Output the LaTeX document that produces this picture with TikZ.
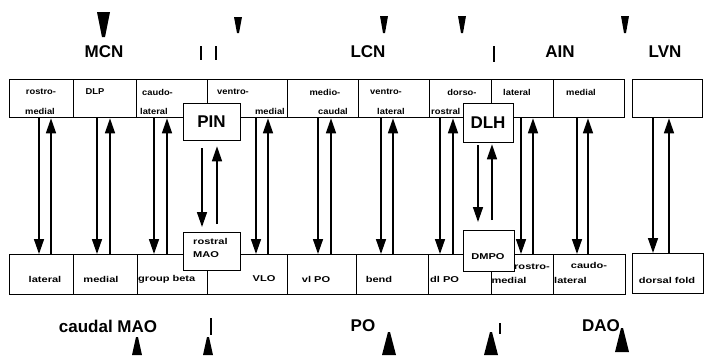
\documentclass[tikz,border=0pt]{standalone}
\usepackage{fontspec}
\setmainfont{Liberation Sans}
\newfontfamily\cellfont{Liberation Sans}[FakeStretch=1.1]
\newfontfamily\widefont{Liberation Sans}[FakeStretch=1.3]
\usetikzlibrary{arrows.meta}
\tikzset{
    cell/.style={ % Kiểu ô trong hàng trên
        draw,
        line width=1.3pt,
        anchor=north west,
        inner sep=0pt,
        minimum height=38pt
    },
    lowcell/.style={ % Kiểu ô trong hàng dưới
        cell,
        minimum height=40pt
    },
    overbox/.style={ % Kiểu ô nổi đè lên hàng
        cell,
        fill=white
    },
    tinytext/.style={ % Chữ nhỏ trong ô hàng trên
        font=\cellfont\bfseries\fontsize{8.5}{9}\selectfont,
        inner sep=0pt
    },
    widetext/.style={ % Chữ nhỏ, rộng trong ô hàng dưới
        font=\widefont\bfseries\fontsize{8.5}{9}\selectfont,
        inner sep=0pt
    },
    bigtext/.style={ % Chữ tên nhân
        font=\bfseries\fontsize{17}{20}\selectfont,
        inner sep=0pt
    },
    conn/.style={ % Mũi tên chiếu
        line width=1.5pt,
        -{Triangle[length=15pt,width=10pt]}
    }
}

\begin{document}
\begin{tikzpicture}[x=1pt,y=-1pt]
        \useasboundingbox (0,0) rectangle (705,360);

        % hàng trên
        \node [cell, minimum width=64pt] (t1) at (9,79) {};
        \node [cell, minimum width=63pt] (t2) at (73,79) {};
        \node [cell, minimum width=71pt] (t3) at (136,79) {};
        \node [cell, minimum width=80pt] (t4) at (207,79) {};
        \node [cell, minimum width=71pt] (t5) at (287,79) {};
        \node [cell, minimum width=71pt] (t6) at (358,79) {};
        \node [cell, minimum width=62pt] (t7) at (429,79) {};
        \node [cell, minimum width=62pt] (t8) at (491,79) {};
        \node [cell, minimum width=71pt] (t9) at (553,79) {};
        \node [cell, minimum width=70pt] (lvn) at (632,79) {};

        \node [tinytext] (t1a) at (41,92) {rostro-};
        \node [tinytext] (t1b) at (40,111) {medial};
        \node [tinytext] (t2a) at (95,92) {DLP};
        \node [tinytext, anchor=west] (t3a) at (142,92) {caudo-};
        \node [tinytext, anchor=west] (t3b) at (140,111) {lateral};
        \node [tinytext] (t4a) at (233,92) {ventro-};
        \node [tinytext, anchor=east] (t4b) at (285,111) {medial};
        \node [tinytext] (t5a) at (325,92) {medio-};
        \node [tinytext] (t5b) at (333,111) {caudal};
        \node [tinytext] (t6a) at (386,92) {ventro-};
        \node [tinytext] (t6b) at (391,111) {lateral};
        \node [tinytext] (t7a) at (462,92) {dorso-};
        \node [tinytext, anchor=west] (t7b) at (431,111) {rostral};
        \node [tinytext] (t8a) at (517,92) {lateral};
        \node [tinytext] (t9a) at (581,92) {medial};

        % hàng dưới
        \node [lowcell, minimum width=64pt] (b1) at (9,254) {};
        \node [lowcell, minimum width=64pt] (b2) at (73,254) {};
        \node [lowcell, minimum width=70pt] (b3) at (137,254) {};
        \node [lowcell, minimum width=80pt] (b4) at (207,254) {};
        \node [lowcell, minimum width=69pt] (b5) at (287,254) {};
        \node [lowcell, minimum width=72pt] (b6) at (356,254) {};
        \node [lowcell, minimum width=63pt] (b7) at (428,254) {};
        \node [lowcell, minimum width=62pt] (b8) at (491,254) {};
        \node [lowcell, minimum width=72pt] (b9) at (553,254) {};
        \node [lowcell, minimum width=71pt] (fold) at (632,253) {};

        \node [widetext] (b1a) at (45,279) {lateral};
        \node [widetext] (b2a) at (101,279) {medial};
        \node [widetext, anchor=west] (b3a) at (138,279) {group beta};
        \node [widetext] (b4a) at (264,279) {VLO};
        \node [widetext] (b5a) at (316,279) {vl PO};
        \node [widetext] (b6a) at (379,279) {bend};
        \node [widetext, anchor=west] (b7a) at (430,279) {dl PO};
        \node [widetext] (b8a) at (532,267) {rostro-};
        \node [widetext] (b8b) at (509,280) {medial};
        \node [widetext] (b9a) at (589,265) {caudo-};
        \node [widetext, anchor=west] (b9b) at (554,280) {lateral};
        \node [widetext] (folda) at (667,280) {dorsal fold};

        % ô nổi
        \node [overbox, minimum width=57pt, minimum height=37pt] (pin) at (183,103) {};
        \node [bigtext] (pina) at (211.5,121.5) {PIN};
        \node [overbox, minimum width=57pt] (mao) at (183,232) {};
        \node [widetext, anchor=west] (maoa) at (193,241) {rostral};
        \node [widetext, anchor=west] (maob) at (193,255) {MAO};
        \node [overbox, minimum width=50pt, minimum height=39pt] (dlh) at (463,103) {};
        \node [bigtext] (dlha) at (488,122.5) {DLH};
        \node [overbox, minimum width=51pt, minimum height=41pt] (dmpo) at (463,230) {};
        \node [widetext] (dmpoa) at (488,257) {DMPO};

        % mũi tên giữa hai hàng
        \draw [conn] (t1.south -| 39,0) -- (b1.north -| 39,0);
        \draw [conn] (b1.north -| 51,0) -- (t1.south -| 51,0);
        \draw [conn] (t2.south -| 97,0) -- (b2.north -| 97,0);
        \draw [conn] (b2.north -| 110,0) -- (t2.south -| 110,0);
        \draw [conn] (t3.south -| 154,0) -- (b3.north -| 154,0);
        \draw [conn] (b3.north -| 167,0) -- (t3.south -| 167,0);
        \draw [conn] (t4.south -| 256,0) -- (b4.north -| 256,0);
        \draw [conn] (b4.north -| 268,0) -- (t4.south -| 268,0);
        \draw [conn] (t5.south -| 318,0) -- (b5.north -| 318,0);
        \draw [conn] (b5.north -| 331,0) -- (t5.south -| 331,0);
        \draw [conn] (t6.south -| 381,0) -- (b6.north -| 381,0);
        \draw [conn] (b6.north -| 393,0) -- (t6.south -| 393,0);
        \draw [conn] (t7.south -| 440,0) -- (b7.north -| 440,0);
        \draw [conn] (b7.north -| 453,0) -- (t7.south -| 453,0);
        \draw [conn] (t8.south -| 521,0) -- (b8.north -| 521,0);
        \draw [conn] (b8.north -| 533,0) -- (t8.south -| 533,0);
        \draw [conn] (t9.south -| 577,0) -- (b9.north -| 577,0);
        \draw [conn] (b9.north -| 588,0) -- (t9.south -| 588,0);
        \draw [conn] (lvn.south -| 653,0) -- (fold.north -| 653,0);
        \draw [conn] (fold.north -| 669,0) -- (lvn.south -| 669,0);
        \draw [conn, shorten <=7pt, shorten >=5pt] (pin.south -| 202,0) -- (mao.north -| 202,0);
        \draw [conn, shorten <=8pt, shorten >=5pt] (mao.north -| 217,0) -- (pin.south -| 217,0);
        \draw [conn, shorten <=2pt, shorten >=8pt] (dlh.south -| 478,0) -- (dmpo.north -| 478,0);
        \draw [conn, shorten <=10pt, shorten >=1pt] (dmpo.north -| 492,0) -- (dlh.south -| 492,0);

        % tên nhân và dấu
        \node [bigtext] (mcn) at (104,52) {MCN};
        \node [bigtext] (lcn) at (368,52) {LCN};
        \node [bigtext] (ain) at (560,52) {AIN};
        \node [bigtext] (lvnname) at (665,52) {LVN};
        \node [bigtext] (cmao) at (108,326) {caudal MAO};
        \node [bigtext] (po) at (363,326) {PO};
        \node [bigtext] (dao) at (601,326) {DAO};

        \fill (97,12) -- (110,12) -- (105,37) -- (102,37) -- cycle;
        \fill (234,17) -- (242,17) -- (239,33) -- (237,33) -- cycle;
        \fill (380,16) -- (388,16) -- (385,33) -- (383,33) -- cycle;
        \fill (458,16) -- (466,16) -- (463,33) -- (461,33) -- cycle;
        \fill (621,16) -- (629,16) -- (626,33) -- (624,33) -- cycle;
        \draw [line width=2pt] (201,46) -- (201,60);
        \draw [line width=2pt] (216,46) -- (216,60);
        \draw [line width=2pt] (494,46) -- (494,62);

        \fill (136,337) -- (138,337) -- (142,355) -- (132,355) -- cycle;
        \fill (207,337) -- (209,337) -- (213,355) -- (203,355) -- cycle;
        \fill (388,332) -- (390,332) -- (396,355) -- (382,355) -- cycle;
        \fill (490,332) -- (492,332) -- (498,355) -- (484,355) -- cycle;
        \fill (621,328) -- (623,328) -- (629,352) -- (615,352) -- cycle;
        \draw [line width=2pt] (211,318) -- (211,335);
        \draw [line width=2pt] (500,323) -- (500,334);
\end{tikzpicture}
\end{document}
